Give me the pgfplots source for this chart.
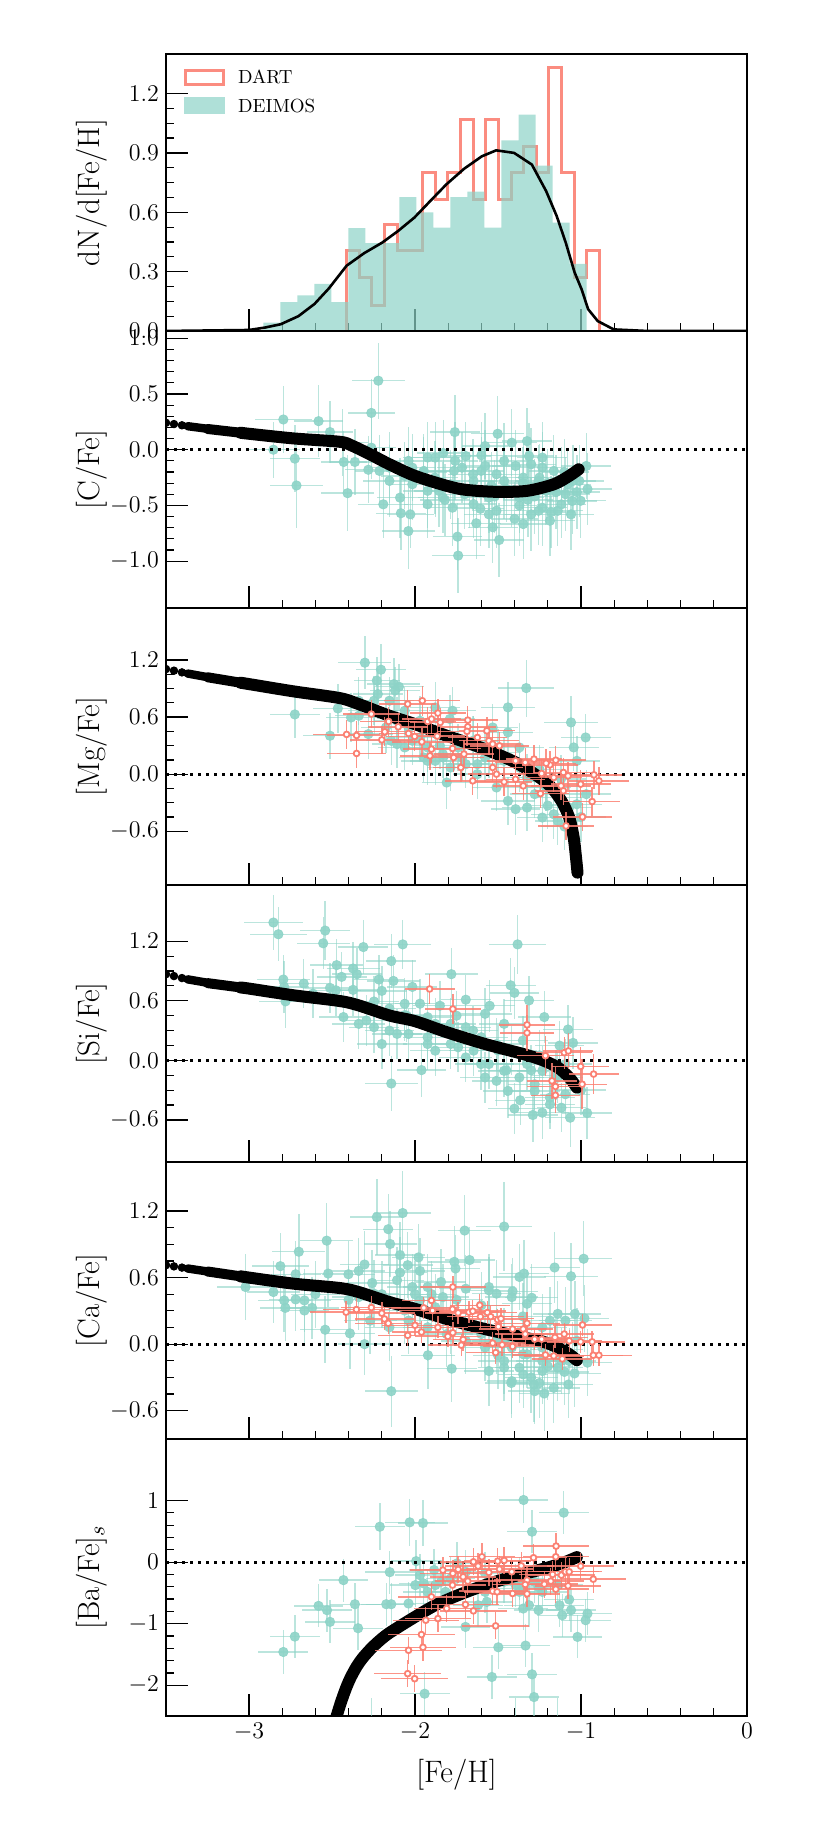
\documentclass[border=0pt]{standalone}
\usepackage{pgfplots}
\pgfplotsset{compat=1.18}
\usepackage{pgfplotstable}
\definecolor{deimosc}{RGB}{141,211,199}
\definecolor{dartc}{RGB}{251,128,114}

% ---------------- C ----------------
\pgfplotstableread{
x y ex ey
-2.793 0.271 0.17 0.30
-2.581 0.256 0.15 0.32
-2.512 0.158 0.14 0.28
-2.853 0.000 0.16 0.25
-2.724 -0.080 0.15 0.30
-2.714 -0.321 0.16 0.38
-2.221 0.619 0.16 0.34
-2.263 0.330 0.14 0.30
-2.435 0.062 0.15 0.30
-2.429 -0.110 0.14 0.28
-2.362 -0.110 0.15 0.30
-2.406 -0.390 0.16 0.34
-2.281 -0.180 0.14 0.30
-2.214 -0.190 0.15 0.32
-2.263 0.018 0.15 0.28
-2.154 -0.280 0.16 0.32
-2.191 -0.490 0.15 0.30
-2.090 -0.430 0.14 0.36
-2.085 -0.570 0.15 0.33
-2.028 -0.580 0.14 0.30
-2.040 -0.730 0.16 0.34
-2.016 -0.310 0.15 0.32
-1.924 -0.490 0.14 0.30
-1.855 -0.370 0.15 0.32
-1.830 -0.030 0.16 0.30
-1.760 0.158 0.15 0.33
-1.758 -0.100 0.14 0.35
-1.765 -0.190 0.15 0.32
-1.774 -0.520 0.16 0.34
-1.744 -0.780 0.15 0.30
-1.740 -0.950 0.16 0.34
-1.631 -0.660 0.15 0.32
-1.606 -0.530 0.14 0.33
-1.555 -0.580 0.15 0.30
-1.578 -0.146 0.15 0.32
-1.578 0.033 0.14 0.30
-1.502 0.143 0.16 0.34
-1.493 -0.810 0.15 0.33
-1.417 0.063 0.15 0.30
-1.394 -0.146 0.14 0.32
-1.371 -0.500 0.15 0.36
-1.300 -0.580 0.16 0.33
-1.233 -0.520 0.15 0.34
-1.118 -0.490 0.15 0.30
-1.060 -0.580 0.14 0.32
-1.053 -0.460 0.15 0.30
-1.025 -0.380 0.14 0.33
-0.968 -0.146 0.15 0.30
-0.961 -0.354 0.15 0.32
-1.080 -0.310 0.14 0.30
-1.313 -0.057 0.15 0.30
-1.233 -0.160 0.14 0.32
-1.463 -0.280 0.15 0.34
-1.647 -0.280 0.14 0.32
-1.924 -0.070 0.15 0.32
-2.039 -0.100 0.15 0.30
-1.880 -0.250 0.14 0.33
-1.700 -0.400 0.15 0.31
-1.650 -0.220 0.15 0.32
-1.520 -0.420 0.14 0.33
-1.450 -0.350 0.15 0.30
-1.350 -0.300 0.15 0.32
-1.280 -0.420 0.14 0.34
-1.200 -0.300 0.15 0.31
-1.150 -0.380 0.14 0.33
-1.100 -0.200 0.15 0.30
-1.180 -0.560 0.15 0.32
-1.400 -0.620 0.14 0.33
-1.600 -0.050 0.15 0.30
-1.950 -0.200 0.14 0.31
-1.820 -0.450 0.15 0.32
-1.250 -0.250 0.14 0.30
-1.010 -0.280 0.15 0.32
-1.320 -0.450 0.15 0.33
-1.540 -0.320 0.14 0.30
-2.154 -0.161 0.15 0.32
-2.062 -0.235 0.14 0.30
-1.947 -0.190 0.15 0.33
-1.878 -0.280 0.15 0.32
-1.786 -0.310 0.14 0.31
-1.717 -0.161 0.15 0.32
-1.671 -0.369 0.15 0.33
-1.601 -0.190 0.14 0.30
-1.555 -0.429 0.15 0.32
-1.463 -0.101 0.15 0.34
-1.417 -0.369 0.14 0.32
-1.348 -0.250 0.15 0.30
-1.300 -0.131 0.15 0.33
-1.256 -0.280 0.14 0.32
-1.210 -0.369 0.15 0.31
-1.164 -0.190 0.15 0.32
-1.118 -0.280 0.14 0.30
-1.094 -0.399 0.15 0.33
-1.140 -0.548 0.15 0.32
-1.256 -0.548 0.14 0.31
-1.371 -0.429 0.15 0.32
-1.509 -0.548 0.15 0.33
-1.647 -0.488 0.14 0.30
-1.832 -0.429 0.15 0.32
-1.924 -0.369 0.15 0.33
-2.016 -0.161 0.14 0.30
-1.878 -0.071 0.15 0.32
-1.694 -0.057 0.15 0.31
-1.509 -0.220 0.14 0.33
-1.233 -0.071 0.15 0.32
-1.325 0.077 0.15 0.30
-1.048 -0.280 0.14 0.32
-1.002 -0.458 0.15 0.33
-1.187 -0.637 0.15 0.32
-1.348 -0.667 0.14 0.31
-1.532 -0.696 0.15 0.32
}\tabCd

% ---------------- Mg ----------------
\pgfplotstableread{
x y ex ey
-2.724 0.628 0.15 0.25
-2.512 0.404 0.16 0.24
-2.465 0.691 0.15 0.26
-2.302 1.172 0.16 0.28
-2.205 1.098 0.15 0.27
-2.230 0.983 0.14 0.25
-2.224 0.842 0.15 0.26
-2.127 0.947 0.16 0.27
-2.097 0.919 0.15 0.24
-2.120 0.880 0.15 0.25
-2.339 0.614 0.14 0.25
-2.281 0.421 0.15 0.26
-2.143 0.351 0.15 0.25
-2.062 0.281 0.16 0.24
-1.947 0.175 0.15 0.26
-1.878 0.702 0.15 0.27
-1.774 0.667 0.14 0.25
-1.790 0.580 0.15 0.25
-1.809 -0.088 0.15 0.28
-1.924 0.140 0.16 0.25
-1.830 0.175 0.15 0.24
-1.717 0.175 0.15 0.25
-1.624 0.105 0.14 0.26
-1.532 0.491 0.15 0.25
-1.440 0.702 0.16 0.27
-1.330 0.905 0.17 0.30
-1.440 0.439 0.15 0.25
-1.371 0.281 0.15 0.26
-1.440 -0.281 0.16 0.25
-1.394 -0.368 0.15 0.27
-1.279 -0.210 0.15 0.25
-1.164 -0.421 0.14 0.26
-1.060 0.544 0.16 0.28
-1.044 0.281 0.15 0.25
-0.972 0.386 0.15 0.25
-1.025 0.140 0.14 0.26
-0.968 -0.210 0.15 0.25
-1.025 -0.316 0.15 0.27
-1.210 -0.140 0.14 0.25
-1.325 -0.035 0.15 0.25
-1.578 0.175 0.15 0.26
-1.694 0.105 0.14 0.25
-1.970 0.386 0.15 0.26
-2.039 0.491 0.15 0.25
-2.175 0.491 0.15 0.27
-2.245 0.667 0.16 0.25
-2.385 0.596 0.15 0.26
-2.108 0.316 0.15 0.25
-1.850 0.300 0.15 0.25
-1.650 0.350 0.15 0.26
-1.500 0.230 0.14 0.25
-1.250 0.050 0.15 0.26
-1.120 -0.050 0.15 0.25
-1.000 -0.450 0.15 0.26
-1.100 -0.550 0.14 0.25
-1.200 -0.330 0.15 0.25
-2.154 0.772 0.15 0.25
-2.247 0.772 0.15 0.26
-2.108 0.561 0.14 0.25
-2.016 0.351 0.15 0.25
-1.924 0.281 0.15 0.26
-1.832 0.211 0.14 0.25
-1.740 0.281 0.15 0.25
-1.648 0.351 0.15 0.26
-1.555 0.211 0.14 0.25
-1.463 0.140 0.15 0.25
-1.371 0.070 0.15 0.26
-1.279 -0.035 0.14 0.25
-1.210 -0.140 0.15 0.25
-1.140 -0.246 0.15 0.26
-1.071 -0.351 0.14 0.25
-1.325 -0.351 0.15 0.25
-1.233 -0.456 0.15 0.26
-1.140 -0.491 0.14 0.25
-1.509 -0.140 0.15 0.25
-1.624 0.000 0.15 0.26
-1.786 0.070 0.14 0.25
-1.878 0.140 0.15 0.25
-1.970 0.561 0.15 0.26
-2.062 0.667 0.14 0.25
-2.339 0.772 0.15 0.25
}\tabMgd
\pgfplotstableread{
x y ex ey
-2.412 0.418 0.20 0.15
-2.352 0.407 0.18 0.15
-2.352 0.218 0.18 0.15
-2.263 0.632 0.17 0.15
-2.200 0.361 0.19 0.15
-2.182 0.446 0.18 0.15
-2.159 0.554 0.17 0.15
-2.101 0.498 0.18 0.15
-2.044 0.737 0.17 0.15
-2.039 0.428 0.18 0.16
-2.002 0.397 0.17 0.15
-1.956 0.772 0.23 0.16
-1.959 0.340 0.18 0.15
-1.924 0.554 0.17 0.15
-1.900 0.580 0.18 0.16
-1.862 0.642 0.17 0.15
-1.848 0.544 0.18 0.15
-1.901 0.263 0.17 0.15
-1.910 0.193 0.18 0.15
-1.866 0.400 0.17 0.15
-1.767 0.175 0.18 0.15
-1.774 0.270 0.17 0.15
-1.705 0.211 0.18 0.15
-1.724 0.070 0.17 0.15
-1.682 0.568 0.18 0.15
-1.682 0.498 0.17 0.15
-1.687 0.450 0.18 0.15
-1.652 -0.070 0.17 0.15
-1.624 0.386 0.18 0.15
-1.567 0.456 0.17 0.15
-1.555 0.351 0.18 0.15
-1.532 0.316 0.17 0.15
-1.491 0.298 0.18 0.15
-1.509 0.000 0.17 0.15
-1.532 0.070 0.18 0.15
-1.463 -0.081 0.17 0.15
-1.394 -0.053 0.18 0.15
-1.394 0.140 0.17 0.15
-1.336 0.123 0.18 0.15
-1.283 0.158 0.17 0.15
-1.348 -0.123 0.18 0.15
-1.244 -0.204 0.17 0.15
-1.237 0.007 0.18 0.15
-1.187 0.098 0.17 0.15
-1.152 0.147 0.18 0.15
-1.164 -0.035 0.17 0.15
-1.106 0.018 0.18 0.15
-1.078 -0.018 0.17 0.15
-1.120 -0.123 0.18 0.15
-1.106 -0.175 0.17 0.15
-1.002 -0.105 0.18 0.15
-0.922 -0.007 0.17 0.15
-0.892 -0.070 0.18 0.15
-0.933 -0.288 0.17 0.15
-0.991 -0.449 0.18 0.15
-1.090 -0.544 0.17 0.15
-1.210 0.115 0.18 0.15
}\tabMgr

% ---------------- Si ----------------
\pgfplotstableread{
x y ex ey
-2.853 1.388 0.18 0.28
-2.823 1.270 0.17 0.27
-2.541 1.307 0.15 0.30
-2.553 1.179 0.16 0.26
-2.311 1.141 0.15 0.27
-2.074 1.168 0.17 0.25
-2.143 1.000 0.15 0.27
-2.472 0.959 0.16 0.26
-2.442 0.841 0.15 0.25
-2.373 0.925 0.16 0.27
-2.350 0.868 0.15 0.26
-2.793 0.814 0.16 0.25
-2.788 0.740 0.15 0.26
-2.670 0.773 0.15 0.25
-2.780 0.594 0.16 0.27
-2.512 0.730 0.15 0.25
-2.373 0.710 0.16 0.26
-2.217 0.814 0.15 0.25
-2.130 0.800 0.16 0.26
-2.200 0.700 0.15 0.25
-2.016 0.740 0.15 0.27
-1.781 0.868 0.16 0.26
-1.694 0.611 0.15 0.25
-2.062 0.570 0.15 0.26
-2.339 0.368 0.16 0.25
-2.200 0.165 0.15 0.25
-2.154 0.300 0.15 0.26
-2.039 0.266 0.16 0.25
-1.961 -0.098 0.15 0.27
-2.143 -0.233 0.16 0.28
-1.924 0.435 0.15 0.25
-1.878 0.098 0.15 0.26
-1.785 0.165 0.15 0.25
-1.578 0.469 0.16 0.26
-1.463 0.368 0.15 0.25
-1.382 1.168 0.17 0.30
-1.424 0.756 0.15 0.27
-1.401 0.680 0.15 0.26
-1.313 0.604 0.15 0.25
-1.221 0.436 0.16 0.26
-1.078 0.311 0.15 0.25
-1.048 0.176 0.15 0.26
-1.129 0.149 0.15 0.25
-1.602 -0.037 0.16 0.26
-1.509 -0.206 0.15 0.25
-1.440 -0.307 0.15 0.27
-1.401 -0.486 0.16 0.26
-1.366 -0.402 0.15 0.25
-1.290 -0.550 0.15 0.27
-1.233 -0.527 0.16 0.26
-1.065 -0.577 0.15 0.30
-0.963 -0.530 0.15 0.26
-1.094 -0.341 0.15 0.25
-1.279 -0.240 0.16 0.26
-1.187 -0.443 0.15 0.25
-1.578 -0.172 0.15 0.26
-1.694 0.030 0.16 0.25
-1.785 0.368 0.15 0.26
-1.924 0.233 0.15 0.25
-2.247 0.334 0.15 0.26
-1.650 0.300 0.15 0.25
-1.500 0.100 0.16 0.26
-1.350 0.200 0.15 0.25
-1.250 0.050 0.15 0.26
-1.150 -0.150 0.15 0.25
-1.000 -0.300 0.15 0.25
-1.450 -0.100 0.15 0.26
-1.750 0.450 0.15 0.25
-2.050 0.450 0.15 0.26
-1.850 0.550 0.16 0.25
-1.550 0.550 0.15 0.26
-1.300 -0.100 0.15 0.25
-2.247 0.593 0.15 0.26
-2.154 0.523 0.16 0.25
-2.062 0.456 0.15 0.26
-1.970 0.571 0.15 0.25
-1.878 0.368 0.16 0.26
-1.786 0.267 0.15 0.25
-1.694 0.334 0.15 0.26
-1.601 0.233 0.16 0.25
-1.509 0.165 0.15 0.26
-1.417 0.098 0.15 0.25
-1.325 -0.037 0.16 0.26
-1.233 -0.105 0.15 0.25
-1.140 -0.172 0.15 0.26
-1.094 -0.037 0.16 0.25
-1.279 -0.307 0.15 0.26
-1.371 -0.172 0.15 0.25
-1.463 -0.105 0.16 0.26
-1.555 -0.037 0.15 0.25
-1.647 0.098 0.15 0.26
-1.740 0.132 0.16 0.25
-1.924 0.165 0.15 0.26
-2.108 0.267 0.15 0.25
-2.293 0.402 0.16 0.26
-2.431 0.436 0.15 0.25
-2.477 0.706 0.15 0.26
-2.615 0.672 0.16 0.25
-1.187 -0.375 0.15 0.26
-1.118 -0.476 0.15 0.25
}\tabSid
\pgfplotstableread{
x y ex ey
-1.912 0.719 0.15 0.15
-1.772 0.517 0.17 0.15
-1.325 0.358 0.17 0.20
-1.325 0.277 0.16 0.18
-1.214 0.047 0.17 0.20
-1.101 0.078 0.17 0.16
-1.076 0.095 0.15 0.18
-1.002 -0.061 0.17 0.20
-0.924 -0.138 0.15 0.20
-1.175 -0.206 0.15 0.18
-1.154 -0.263 0.17 0.20
-1.154 -0.351 0.15 0.18
-0.993 -0.240 0.15 0.25
}\tabSir

% ---------------- Ca ----------------
\pgfplotstableread{
x y ex ey
-3.021 0.515 0.17 0.30
-2.853 0.470 0.16 0.28
-2.811 0.703 0.17 0.30
-2.788 0.394 0.16 0.28
-2.781 0.327 0.15 0.30
-2.719 0.403 0.16 0.28
-2.700 0.833 0.16 0.34
-2.719 0.630 0.15 0.30
-2.666 0.394 0.16 0.28
-2.666 0.303 0.15 0.30
-2.620 0.327 0.16 0.28
-2.541 0.130 0.15 0.30
-2.532 0.933 0.16 0.34
-2.523 0.636 0.15 0.30
-2.401 0.630 0.16 0.30
-2.392 0.097 0.15 0.32
-2.339 0.660 0.16 0.30
-2.304 0.718 0.15 0.30
-2.304 0.000 0.16 0.28
-2.258 0.551 0.15 0.30
-2.230 1.145 0.16 0.34
-2.161 1.036 0.15 0.32
-2.150 0.903 0.16 0.30
-2.090 0.803 0.15 0.30
-2.090 0.645 0.16 0.32
-2.074 1.182 0.17 0.38
-2.044 0.712 0.15 0.30
-1.979 0.782 0.16 0.30
-1.970 0.660 0.15 0.30
-1.922 -0.100 0.16 0.30
-1.779 -0.221 0.15 0.30
-2.143 -0.424 0.16 0.32
-1.843 0.560 0.15 0.30
-1.763 0.742 0.16 0.32
-1.756 0.682 0.15 0.30
-1.701 1.024 0.16 0.32
-1.671 0.758 0.15 0.30
-1.694 0.500 0.16 0.30
-1.555 0.485 0.15 0.30
-1.463 1.060 0.17 0.40
-1.412 0.476 0.15 0.30
-1.371 0.606 0.16 0.30
-1.343 0.636 0.15 0.30
-1.297 0.418 0.16 0.30
-1.159 0.691 0.15 0.32
-1.060 0.612 0.16 0.30
-0.984 0.770 0.17 0.34
-0.979 0.233 0.15 0.30
-1.037 0.273 0.16 0.30
-1.555 -0.242 0.15 0.32
-1.463 -0.152 0.16 0.30
-1.371 -0.212 0.15 0.32
-1.283 -0.364 0.16 0.34
-1.221 -0.445 0.15 0.34
-1.164 -0.394 0.16 0.32
-1.076 -0.364 0.15 0.30
-1.039 -0.264 0.16 0.30
-0.961 -0.167 0.15 0.30
-1.348 -0.091 0.16 0.30
-1.463 0.030 0.15 0.30
-1.578 -0.030 0.16 0.30
-1.694 0.030 0.15 0.30
-1.809 0.091 0.16 0.30
-1.924 0.152 0.15 0.30
-2.039 0.212 0.16 0.30
-2.154 0.152 0.15 0.30
-2.270 0.212 0.16 0.30
-1.233 -0.242 0.15 0.30
-1.118 -0.152 0.16 0.30
-1.233 0.152 0.15 0.30
-1.300 -0.300 0.16 0.32
-1.200 -0.200 0.15 0.30
-1.250 -0.350 0.16 0.32
-1.100 -0.250 0.15 0.30
-1.420 -0.350 0.16 0.32
-1.500 -0.100 0.15 0.30
-1.150 -0.050 0.16 0.30
-1.050 -0.100 0.15 0.30
-1.350 0.250 0.16 0.30
-1.600 0.350 0.15 0.30
-1.750 0.400 0.16 0.30
-1.900 0.450 0.15 0.30
-2.000 0.450 0.16 0.30
-2.200 0.450 0.15 0.30
-2.400 0.400 0.16 0.30
-2.600 0.450 0.15 0.30
-2.339 0.424 0.16 0.30
-2.247 0.455 0.15 0.30
-2.154 0.394 0.16 0.30
-2.062 0.303 0.15 0.30
-1.970 0.394 0.16 0.30
-1.878 0.333 0.15 0.30
-1.786 0.212 0.16 0.30
-1.694 0.152 0.15 0.30
-1.601 0.091 0.16 0.30
-1.509 0.030 0.15 0.30
-1.417 -0.030 0.16 0.30
-1.325 -0.091 0.15 0.30
-1.233 -0.152 0.16 0.30
-1.140 -0.212 0.15 0.30
-1.071 -0.152 0.16 0.30
-1.025 0.030 0.15 0.30
-1.233 -0.030 0.16 0.30
-1.348 -0.273 0.15 0.30
-1.463 -0.212 0.16 0.30
-1.417 -0.333 0.15 0.30
-1.279 -0.424 0.16 0.30
-1.325 0.364 0.15 0.30
-1.417 0.424 0.16 0.30
-1.509 0.455 0.15 0.30
-1.555 0.515 0.16 0.30
-1.924 0.515 0.15 0.30
-1.832 0.424 0.16 0.30
-2.016 0.515 0.15 0.30
-2.108 0.576 0.16 0.30
-1.140 0.273 0.15 0.30
-1.094 0.212 0.16 0.30
-1.187 0.212 0.15 0.30
}\tabCad
\pgfplotstableread{
x y ex ey
-2.415 0.288 0.22 0.10
-2.353 0.312 0.20 0.10
-2.263 0.330 0.18 0.10
-2.200 0.279 0.20 0.10
-2.184 0.227 0.18 0.10
-2.161 0.188 0.20 0.10
-2.044 0.079 0.18 0.10
-2.000 0.170 0.20 0.10
-1.961 0.109 0.18 0.10
-1.947 0.327 0.20 0.10
-1.901 0.394 0.18 0.10
-1.894 0.303 0.20 0.10
-1.862 0.151 0.18 0.10
-1.802 0.070 0.20 0.10
-1.772 0.103 0.18 0.10
-1.772 0.515 0.20 0.10
-1.774 0.315 0.18 0.10
-1.740 0.282 0.20 0.10
-1.710 0.042 0.18 0.10
-1.721 -0.009 0.20 0.10
-1.675 0.288 0.18 0.10
-1.652 0.297 0.20 0.10
-1.610 0.351 0.18 0.10
-1.606 0.248 0.20 0.10
-1.564 0.285 0.18 0.10
-1.544 0.248 0.20 0.10
-1.502 0.221 0.18 0.10
-1.482 0.230 0.20 0.10
-1.498 0.158 0.18 0.10
-1.532 0.009 0.20 0.10
-1.514 -0.076 0.18 0.10
-1.475 -0.006 0.20 0.10
-1.412 -0.021 0.18 0.10
-1.412 0.136 0.20 0.10
-1.348 0.136 0.18 0.10
-1.325 0.188 0.20 0.10
-1.336 0.091 0.18 0.10
-1.279 0.045 0.20 0.10
-1.237 0.045 0.18 0.10
-1.214 -0.097 0.20 0.10
-1.164 -0.106 0.18 0.10
-1.157 0.061 0.20 0.10
-1.101 0.091 0.18 0.10
-1.071 0.030 0.20 0.10
-1.113 -0.133 0.18 0.10
-1.002 0.021 0.20 0.10
-0.991 0.173 0.18 0.10
-0.933 0.021 0.20 0.10
-0.926 -0.100 0.18 0.10
-0.892 -0.100 0.20 0.10
}\tabCar

% ---------------- Ba ----------------
\pgfplotstableread{
x y ex ey
-2.793 -1.460 0.15 0.35
-2.724 -1.210 0.15 0.35
-2.581 -0.711 0.15 0.35
-2.530 -0.781 0.15 0.35
-2.512 -0.971 0.15 0.35
-2.431 -0.293 0.15 0.35
-2.362 -0.684 0.15 0.35
-2.343 -1.074 0.15 0.35
-2.212 0.575 0.15 0.38
-2.152 -0.163 0.15 0.35
-2.173 -0.684 0.15 0.35
-2.143 -0.684 0.15 0.35
-2.039 -0.673 0.15 0.35
-2.032 0.646 0.15 0.38
-1.952 0.635 0.15 0.38
-1.993 0.016 0.15 0.35
-1.998 -0.374 0.15 0.35
-1.947 -0.347 0.15 0.35
-1.970 -0.212 0.15 0.35
-1.885 -0.130 0.15 0.35
-1.816 -0.483 0.15 0.35
-1.747 -0.022 0.15 0.35
-1.696 -1.053 0.15 0.35
-1.620 -0.700 0.15 0.35
-1.578 -0.184 0.15 0.35
-1.498 -1.384 0.15 0.35
-1.537 -1.866 0.15 0.35
-1.346 1.009 0.15 0.38
-1.295 0.494 0.15 0.35
-1.104 0.803 0.15 0.35
-1.334 -1.356 0.15 0.35
-1.295 -1.823 0.15 0.35
-1.283 -2.192 0.15 0.35
-1.313 -0.700 0.15 0.35
-1.256 -0.781 0.15 0.35
-1.129 -0.700 0.15 0.35
-1.113 -0.863 0.15 0.35
-1.060 -0.781 0.15 0.35
-1.071 -0.608 0.15 0.35
-1.021 -1.215 0.15 0.35
-0.972 -0.944 0.15 0.35
-0.961 -0.836 0.15 0.35
-1.942 -2.138 0.15 0.35
-2.263 -2.550 0.15 0.35
-1.394 -2.550 0.15 0.35
-1.140 -2.550 0.15 0.35
-1.394 -0.374 0.15 0.35
-1.348 -0.429 0.15 0.35
-1.256 -0.402 0.15 0.35
-1.371 -0.266 0.15 0.35
-1.567 -0.646 0.15 0.35
-1.843 -0.320 0.15 0.35
-1.924 -0.483 0.15 0.35
-1.878 -0.374 0.15 0.35
-1.786 -0.266 0.15 0.35
-1.694 -0.157 0.15 0.35
-1.578 -0.483 0.15 0.35
-1.463 -0.320 0.15 0.35
-1.371 -0.483 0.15 0.35
-1.279 -0.320 0.15 0.35
-1.233 -0.483 0.15 0.35
-1.140 -0.374 0.15 0.35
-1.348 -0.754 0.15 0.35
}\tabBad
\pgfplotstableread{
x y ex ey
-2.044 -1.812 0.20 0.22
-2.002 -1.894 0.20 0.22
-2.039 -1.432 0.20 0.22
-1.952 -1.384 0.20 0.22
-1.961 -1.177 0.20 0.22
-1.935 -0.944 0.20 0.22
-1.862 -0.917 0.20 0.22
-1.901 -0.564 0.20 0.22
-1.809 -0.754 0.20 0.22
-1.774 -0.374 0.20 0.22
-1.832 -0.130 0.20 0.22
-1.772 -0.184 0.20 0.22
-1.740 -0.119 0.20 0.22
-1.710 -0.239 0.20 0.22
-1.682 -0.309 0.20 0.22
-1.696 -0.689 0.20 0.22
-1.648 -0.792 0.20 0.22
-1.648 0.005 0.20 0.22
-1.620 -0.065 0.20 0.22
-1.597 0.087 0.20 0.22
-1.555 -0.168 0.20 0.22
-1.532 -0.472 0.20 0.22
-1.505 -0.483 0.20 0.22
-1.514 -1.036 0.20 0.22
-1.502 0.016 0.20 0.22
-1.491 -0.114 0.20 0.22
-1.463 0.027 0.20 0.22
-1.412 -0.510 0.20 0.22
-1.325 -0.515 0.20 0.22
-1.325 -0.293 0.20 0.22
-1.336 -0.364 0.20 0.22
-1.286 0.071 0.20 0.22
-1.221 -0.358 0.20 0.22
-1.182 -0.309 0.20 0.22
-1.171 -0.200 0.20 0.22
-1.152 -0.440 0.20 0.22
-1.150 0.260 0.20 0.22
-1.152 0.087 0.20 0.22
-1.118 -0.212 0.20 0.22
-1.094 -0.157 0.20 0.22
-1.078 -0.385 0.20 0.22
-1.071 -0.157 0.20 0.22
-1.002 -0.065 0.20 0.22
-0.926 -0.277 0.20 0.22
-1.360 -0.060 0.20 0.22
-1.417 -0.157 0.20 0.22
}\tabBar

\pgfplotsset{
  panel/.style={
    scale only axis, width=290.5pt, height=138.5pt,
    anchor=south west,
    xmin=-3.5, xmax=0,
    xtick={-3,-2,-1,0}, minor x tick num=4,
    xtick pos=left, ytick pos=left,
    tick align=inside,
    major tick length=11pt, minor tick length=4pt,
    tick style={black, line width=0.6pt},
    axis line style={line width=0.8pt},
    tick label style={font=\fontsize{13}{15}\selectfont},
    label style={font=\fontsize{15.5}{18}\selectfont},
    ylabel style={at={(axis description cs:-0.127,0.5)}, anchor=center},
    xticklabels={},
    clip marker paths=true,
  },
  onedec/.style={yticklabel style={/pgf/number format/.cd, fixed, fixed zerofill, precision=1}},
  deimos/.style={only marks, mark=*, mark size=2.35pt, color=deimosc,
    mark options={fill=deimosc, draw=deimosc, opacity=0.9},
    error bars/.cd, x dir=both, x explicit, y dir=both, y explicit, error mark=none,
    error bar style={line width=0.7pt, deimosc, opacity=0.6}},
  dart/.style={only marks, mark=*, mark size=1.45pt, color=dartc,
    mark options={fill=white, draw=dartc, line width=0.9pt},
    error bars/.cd, x dir=both, x explicit, y dir=both, y explicit, error mark=none,
    error bar style={line width=0.7pt, dartc, opacity=0.85}},
  model/.style={black, line width=6pt, smooth, line cap=round},
  modelA/.style={black, line width=4.2pt, line cap=round},
  modelB/.style={black, line width=5pt, line cap=round},
  modeldots/.style={only marks, mark=*, black, mark size=1.9pt},
  zeroline/.style={black, line width=1.5pt, dash pattern=on 1.5pt off 2.5pt},
}

\begin{document}
\begin{tikzpicture}
\useasboundingbox (0,0) rectangle (415pt,913.5pt);

% ===== Panel 1: MDF =====
\begin{axis}[panel, onedec, at={(83pt,748pt)},
  ymin=0, ymax=1.4, ytick={0,0.3,0.6,0.9,1.2}, minor y tick num=3,
  ylabel={dN/d[Fe/H]},
  legend style={draw=none, fill=none, at={(axis description cs:0.022,0.965)}, anchor=north west,
    font=\fontsize{9.5}{11}\selectfont, row sep=2pt, inner sep=1pt},
  legend cell align=left]
\addplot[const plot mark left, dartc, line width=1.5pt, draw opacity=0.9,
  legend image code/.code={\path (0pt,0pt) (25pt,0pt); \draw[dartc, line width=1.5pt] (1.5pt,-3pt) rectangle (20.5pt,4pt);}]
  coordinates {(-2.412,0) (-2.412,0.405) (-2.336,0.270) (-2.260,0.130) (-2.183,0.536) (-2.107,0.405)
  (-2.031,0.405) (-1.955,0.800) (-1.879,0.665) (-1.802,0.800) (-1.726,1.068) (-1.650,0.665)
  (-1.574,1.068) (-1.498,0.665) (-1.421,0.800) (-1.345,0.934) (-1.269,0.800) (-1.193,1.333)
  (-1.117,0.800) (-1.040,0.270) (-0.964,0.405) (-0.888,0)};
\addlegendentry{DART}
\addplot[const plot mark left, draw=none, fill=deimosc, fill opacity=0.7,
  legend image code/.code={\path (0pt,0pt) (25pt,0pt); \fill[deimosc, fill opacity=0.7] (0.75pt,-3.75pt) rectangle (21.25pt,4.75pt);}]
  coordinates {(-2.914,0.042) (-2.8115,0.146) (-2.709,0.180) (-2.6065,0.238) (-2.504,0.146)
  (-2.4015,0.520) (-2.299,0.444) (-2.1965,0.444) (-2.094,0.677) (-1.9915,0.600) (-1.889,0.523)
  (-1.7865,0.677) (-1.684,0.704) (-1.5815,0.523) (-1.479,0.964) (-1.3765,1.093) (-1.274,0.836)
  (-1.1715,0.548) (-1.069,0.339) (-0.9665,0.339)} \closedcycle;
\addlegendentry{DEIMOS}
\addplot[black, line width=1.3pt, forget plot] coordinates {
  (-3.5,0) (-3.0,0.005) (-2.906,0.017) (-2.809,0.034) (-2.702,0.075) (-2.605,0.137) (-2.519,0.215)
  (-2.412,0.33) (-2.305,0.394) (-2.197,0.447) (-2.101,0.506) (-2.004,0.573) (-1.908,0.657)
  (-1.811,0.741) (-1.704,0.82) (-1.597,0.883) (-1.511,0.913) (-1.403,0.90) (-1.296,0.841)
  (-1.210,0.707) (-1.146,0.58) (-1.092,0.447) (-1.039,0.297) (-0.996,0.21) (-0.957,0.11)
  (-0.899,0.05) (-0.803,0.008) (-0.6,0.0) (0,0)};
\end{axis}

% ===== Panel 2: C =====
\begin{axis}[panel, onedec, at={(83pt,609.5pt)},
  ymin=-1.42, ymax=1.065, ytick={-1,-0.5,0,0.5,1}, minor y tick num=4,
  ylabel={[C/Fe]}]
\addplot[deimos] table[x index=0, y index=1, x error index=2, y error index=3] {\tabCd};
\addplot[zeroline] coordinates {(-3.5,0) (0,0)};
\addplot[modeldots] coordinates {(-3.5,0.241) (-3.452,0.230) (-3.404,0.219)};
\addplot[modelA] coordinates {(-3.37,0.211) (-3.2,0.178)};
\addplot[modelB] coordinates {(-3.25,0.186) (-3.05,0.152)};
\addplot[model] coordinates {(-3.05,0.152) (-3.0,0.143) (-2.73,0.101) (-2.454,0.071)
  (-2.385,0.040) (-2.27,-0.042) (-2.154,-0.131) (-2.0,-0.235) (-1.809,-0.324) (-1.694,-0.36)
  (-1.509,-0.378) (-1.325,-0.369) (-1.164,-0.31) (-1.071,-0.235) (-1.014,-0.176)};
\end{axis}

% ===== Panel 3: Mg =====
\begin{axis}[panel, onedec, at={(83pt,471pt)},
  ymin=-1.165, ymax=1.747, ytick={-0.6,0,0.6,1.2}, minor y tick num=3,
  ylabel={[Mg/Fe]}]
\addplot[deimos] table[x index=0, y index=1, x error index=2, y error index=3] {\tabMgd};
\addplot[zeroline] coordinates {(-3.5,0) (0,0)};
\addplot[modeldots] coordinates {(-3.5,1.105) (-3.452,1.088) (-3.404,1.070)};
\addplot[modelA] coordinates {(-3.37,1.058) (-3.2,1.004)};
\addplot[modelB] coordinates {(-3.25,1.019) (-3.05,0.961)};
\addplot[model] coordinates {(-3.05,0.961) (-3.0,0.947) (-2.73,0.87) (-2.454,0.80)
  (-2.34,0.737) (-2.154,0.614) (-2.0,0.526) (-1.809,0.404) (-1.578,0.263) (-1.394,0.123)
  (-1.279,0.0) (-1.187,-0.123) (-1.118,-0.281) (-1.071,-0.456) (-1.044,-0.667) (-1.03,-0.877)
  (-1.021,-1.035)};
\addplot[dart] table[x index=0, y index=1, x error index=2, y error index=3] {\tabMgr};
\end{axis}

% ===== Panel 4: Si =====
\begin{axis}[panel, onedec, at={(83pt,332.5pt)},
  ymin=-1.023, ymax=1.766, ytick={-0.6,0,0.6,1.2}, minor y tick num=3,
  ylabel={[Si/Fe]}]
\addplot[deimos] table[x index=0, y index=1, x error index=2, y error index=3] {\tabSid};
\addplot[zeroline] coordinates {(-3.5,0) (0,0)};
\addplot[modeldots] coordinates {(-3.5,0.868) (-3.452,0.849) (-3.404,0.829)};
\addplot[modelA] coordinates {(-3.37,0.816) (-3.2,0.767)};
\addplot[modelB] coordinates {(-3.25,0.778) (-3.05,0.734)};
\addplot[model] coordinates {(-3.05,0.734) (-3.0,0.723) (-2.73,0.655) (-2.454,0.598)
  (-2.34,0.554) (-2.154,0.452) (-2.0,0.395) (-1.809,0.284) (-1.578,0.165) (-1.348,0.064)
  (-1.233,0.003) (-1.14,-0.071) (-1.071,-0.172) (-1.025,-0.274)};
\addplot[dart] table[x index=0, y index=1, x error index=2, y error index=3] {\tabSir};
\end{axis}

% ===== Panel 5: Ca =====
\begin{axis}[panel, onedec, at={(83pt,194pt)},
  ymin=-0.855, ymax=1.642, ytick={-0.6,0,0.6,1.2}, minor y tick num=3,
  ylabel={[Ca/Fe]}]
\addplot[deimos] table[x index=0, y index=1, x error index=2, y error index=3] {\tabCad};
\addplot[zeroline] coordinates {(-3.5,0) (0,0)};
\addplot[modeldots] coordinates {(-3.5,0.712) (-3.452,0.701) (-3.404,0.690)};
\addplot[modelA] coordinates {(-3.37,0.682) (-3.2,0.644)};
\addplot[modelB] coordinates {(-3.25,0.655) (-3.05,0.611)};
\addplot[model] coordinates {(-3.05,0.611) (-3.0,0.60) (-2.73,0.545) (-2.454,0.506)
  (-2.34,0.47) (-2.154,0.379) (-2.0,0.318) (-1.809,0.227) (-1.578,0.136) (-1.348,0.061)
  (-1.233,0.024) (-1.14,-0.03) (-1.071,-0.091) (-1.025,-0.145)};
\addplot[dart] table[x index=0, y index=1, x error index=2, y error index=3] {\tabCar};
\end{axis}

% ===== Panel 6: Ba =====
\begin{axis}[panel, at={(83pt,55.5pt)},
  ymin=-2.5, ymax=2.0, ytick={-2,-1,0,1}, minor y tick num=4,
  xticklabels={$-3$,$-2$,$-1$,$0$},
  xlabel={[Fe/H]},
  xlabel style={at={(axis description cs:0.5,0)}, yshift=-29.5pt, anchor=center},
  ylabel={[Ba/Fe]$_s$}]
\addplot[deimos] table[x index=0, y index=1, x error index=2, y error index=3] {\tabBad};
\addplot[zeroline] coordinates {(-3.5,0) (0,0)};
\addplot[model] coordinates {(-2.49,-2.66) (-2.472,-2.5) (-2.45,-2.31) (-2.431,-2.16) (-2.41,-2.01)
  (-2.385,-1.86) (-2.35,-1.69) (-2.316,-1.56) (-2.27,-1.42) (-2.224,-1.30) (-2.17,-1.18)
  (-2.108,-1.07) (-2.0,-0.89) (-1.878,-0.70) (-1.74,-0.537) (-1.578,-0.374)
  (-1.417,-0.239) (-1.256,-0.13) (-1.118,-0.022) (-1.025,0.081)};
\addplot[dart] table[x index=0, y index=1, x error index=2, y error index=3] {\tabBar};
\end{axis}
\end{tikzpicture}
\end{document}
